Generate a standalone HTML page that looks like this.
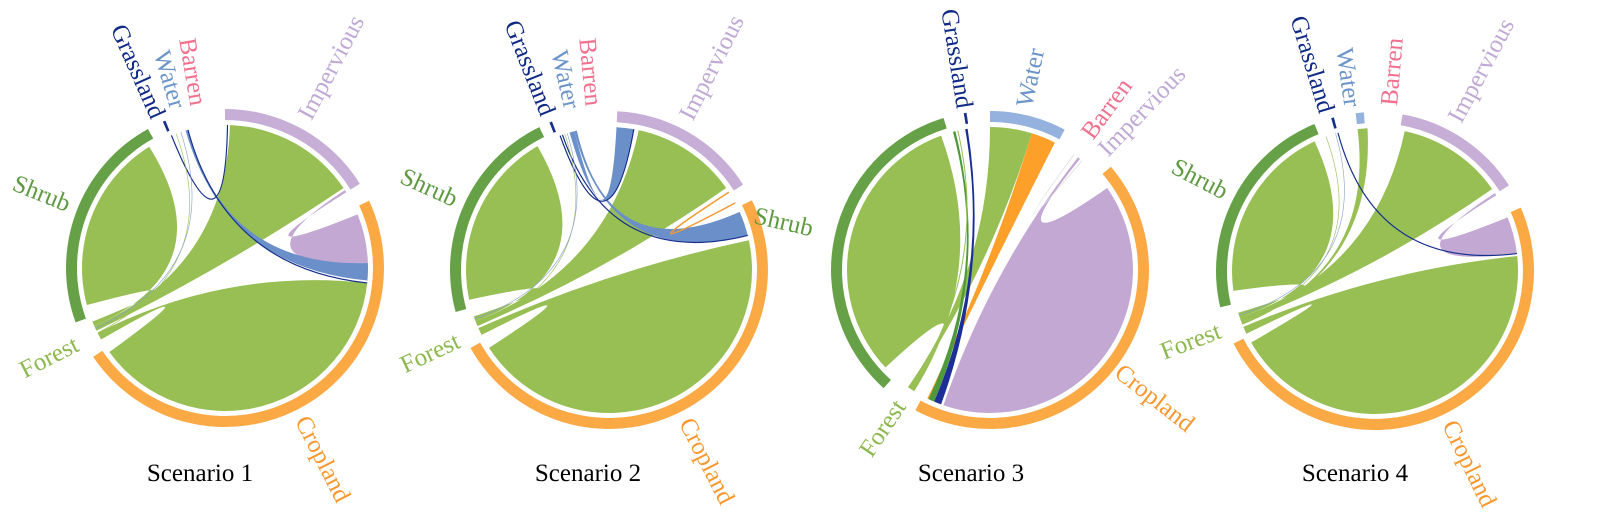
<!DOCTYPE html>
<html><head><meta charset="utf-8"><style>
html,body{margin:0;padding:0;background:#fff;width:1598px;height:517px;overflow:hidden}
svg{display:block}
text{font-family:"Liberation Serif",serif;font-size:25px}
</style></head><body>
<svg id="s" width="1598" height="517" xmlns="http://www.w3.org/2000/svg"></svg>
<script>
const G='#97bf54',SH='#66a047',CR='#fba944',IM='#c6aed6',IMc='#c3a8d3',WA='#6a8fc9',WA3='#95b1dd',GR='#16308c',BA='#ec6f8a';
const LC={Forest:'#8db84f',Shrub:'#5e9a40',Cropland:'#f8982e',Impervious:'#c1a9d6',Water:'#6b94c9',Grassland:'#0f2a85',Barren:'#f0708e'};
function P(c,r,a){a*=Math.PI/180;return [c[0]+r*Math.sin(a),c[1]-r*Math.cos(a)];}
function f(p){return p[0].toFixed(2)+' '+p[1].toFixed(2);}
let out='';
function ring(c,a1,a2,col){const r1=148,r2=159;const L=(a2-a1)>180?1:0;
 out+=`<path d="M${f(P(c,r2,a1))}A${r2} ${r2} 0 ${L} 1 ${f(P(c,r2,a2))}L${f(P(c,r1,a2))}A${r1} ${r1} 0 ${L} 0 ${f(P(c,r1,a1))}Z" fill="${col}"/>`;}
function rib(c,a1,a2,b1,b2,col,op){const r=143;const La=(a2-a1)>180?1:0,Lb=(b2-b1)>180?1:0;
 out+=`<path d="M${f(P(c,r,a1))}A${r} ${r} 0 ${La} 1 ${f(P(c,r,a2))}Q${f(c)} ${f(P(c,r,b1))}A${r} ${r} 0 ${Lb} 1 ${f(P(c,r,b2))}Q${f(c)} ${f(P(c,r,a1))}Z" fill="${col}" ${op?'fill-opacity="'+op+'"':''}/>`;}
function line(c,a,b,col,w){const r=143;out+=`<path d="M${f(P(c,r,a))}Q${f(c)} ${f(P(c,r,b))}" stroke="${col}" stroke-width="${w}" fill="none"/>`;}
function lab(c,name,a,r){const p=P(c,r,a);let rot,anc;if(a<180){rot=a-90;anc='start';}else{rot=a+90;anc='end';}
 out+=`<text x="0" y="0" transform="translate(${p[0].toFixed(1)} ${p[1].toFixed(1)}) rotate(${rot})" text-anchor="${anc}" dominant-baseline="central" fill="${LC[name]}">${name}</text>`;}
function title(x,t){out+=`<text x="${x}" y="481" text-anchor="middle" fill="#000" style="font-size:25px">${t}</text>`;}

// Scenario 1
let c=[225,268];
ring(c,0,58,IM);ring(c,65,236,CR);ring(c,250,331,SH);ring(c,337,338,GR);
rib(c,246,248,255,328,G);rib(c,244,246,2,56,G);rib(c,240,243,96,234,G);
rib(c,57,58,68,88,IMc);rib(c,344,345,88,95,WA);line(c,345,96,GR,1.2);line(c,1,338,GR,1.2);
line(c,340,243,G,0.6);line(c,342,245,'#8aa0d0',0.6);
lab(c,'Impervious',28,170);lab(c,'Cropland',153,168);lab(c,'Forest',243,166);lab(c,'Shrub',292,168);
lab(c,'Grassland',336,165);lab(c,'Water',343.5,167);lab(c,'Barren',350.5,165);
title(200,'Scenario 1');

// Scenario 2
c=[609,270];
ring(c,3,57.5,IM);ring(c,64,240.6,CR);ring(c,254.7,334,SH);ring(c,338,339,GR);
rib(c,249,251,258,330,G);rib(c,247,249,12,55,G);rib(c,243,246,78,237,G);
rib(c,344,346,3,10,WA);rib(c,346,347,66,76,WA);line(c,340,10,GR,1.2);line(c,341,76,GR,1.2);
line(c,57,62,'#f39a30',1.5);line(c,342,247,G,0.6);line(c,343,250,'#8aa0d0',0.6);
lab(c,'Impervious',27,170);lab(c,'Cropland',153,168);lab(c,'Forest',245,166);lab(c,'Shrub',294.5,168);
lab(c,'Grassland',338.5,167);lab(c,'Water',347,166);lab(c,'Barren',354.5,165);
title(588,'Scenario 2');

// Scenario 3
c=[990,270];
ring(c,0,28,WA3);ring(c,49.5,208,CR);ring(c,222,343,SH);ring(c,350.5,351.5,GR);
rib(c,212,214,227,340,G);rib(c,214,215,0,17,G);rib(c,17,27,205.5,206,'#fca02a');
rib(c,203,205.5,345,346,'#4e9a3a');rib(c,200,203,350,351,'#1c2f96');
rib(c,38,39,55,199,IMc);line(c,36,40,'#ddd',0.8);line(c,347,214,G,1);
lab(c,'Grassland',351,164);lab(c,'Water',12,167);lab(c,'Barren',36,165);lab(c,'Impervious',43.8,163);
lab(c,'Cropland',128,162);lab(c,'Forest',214,160);lab(c,'Shrub',283,182);
title(971,'Scenario 3');

// Scenario 4
c=[1375,271];
ring(c,10,57.4,IM);ring(c,66.5,242.8,CR);ring(c,256.8,337.6,SH);ring(c,344,345,GR);ring(c,353,356,WA3);
rib(c,251,253,262,335,G);rib(c,249,251,12,55,G);rib(c,248,249,353,357,G);rib(c,244,247,84,240,G);
rib(c,57,58,68,83,IMc);line(c,345,83,GR,1.2);line(c,340,250,G,0.6);line(c,344,252,'#8aa0d0',0.6);
lab(c,'Impervious',28,170);lab(c,'Cropland',154,168);lab(c,'Forest',249,166);lab(c,'Shrub',297.6,168);
lab(c,'Grassland',343,166);lab(c,'Water',352,166);lab(c,'Barren',5,166);
title(1355,'Scenario 4');

document.getElementById('s').innerHTML=out;
</script>
</body></html>
